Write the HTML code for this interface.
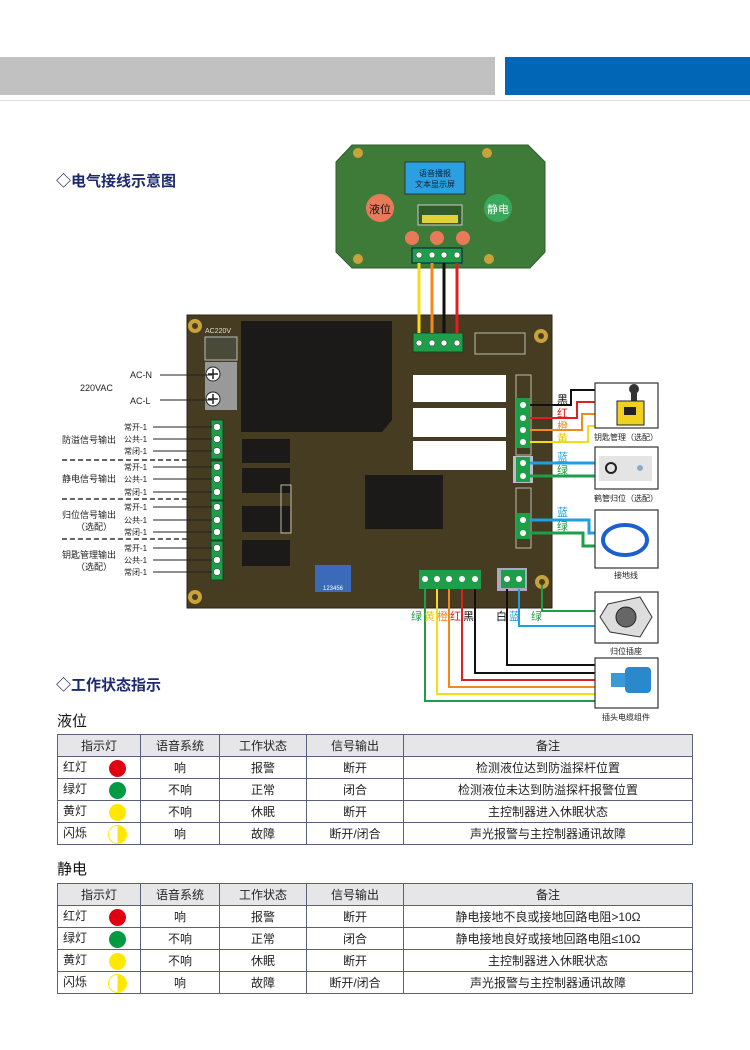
<!DOCTYPE html>
<html><head><meta charset="utf-8"><style>
body{margin:0;width:750px;height:1050px;background:#fff;position:relative;overflow:hidden;font-family:"Liberation Sans","Noto Sans CJK SC",sans-serif;}
.abs{position:absolute}
table{position:absolute;left:57px;width:636px;border-collapse:collapse;font-size:12px;color:#222;}
td,th{border:1px solid #5a5f7a;height:21px;text-align:center;padding:0;font-weight:normal;}
th{background:#e6e6e9;}
td.l{text-align:left;padding-left:5px;}
.dot{display:inline-block;width:17px;height:17px;border-radius:50%;vertical-align:middle;margin-left:22px;}
</style></head><body>
<div class="abs" style="left:0;top:57px;width:495px;height:38px;background:#c0c1c0"></div>
<div class="abs" style="left:505px;top:57px;width:245px;height:38px;background:#0066b5"></div>
<div class="abs" style="left:0;top:100px;width:750px;height:1px;background:#ddd"></div>
<div class="abs" style="left:56px;top:170px;font-size:15px;font-weight:bold;color:#1e2a6e">◇电气接线示意图</div>
<div class="abs" style="left:56px;top:674px;font-size:15px;font-weight:bold;color:#1e2a6e">◇工作状态指示</div>
<div class="abs" style="left:57px;top:710px;font-size:15px;color:#111">液位</div>
<div class="abs" style="left:57px;top:858px;font-size:15px;color:#111">静电</div>
<svg class="abs" style="left:0;top:0" width="750" height="730" font-family="Liberation Sans,Noto Sans CJK SC,sans-serif">
<!-- top board -->
<polygon points="352,145 528,145 545,162 545,252 530,268 352,268 336,252 336,162" fill="#3e7a38" stroke="#2e5c2a"/>
<circle cx="358" cy="153" r="5" fill="#c9a23a"/><circle cx="487" cy="153" r="5" fill="#c9a23a"/>
<circle cx="358" cy="259" r="5" fill="#c9a23a"/><circle cx="489" cy="259" r="5" fill="#c9a23a"/>
<rect x="405" y="162" width="60" height="32" fill="#2aa0e0" stroke="#333"/>
<text x="435" y="176" font-size="8" text-anchor="middle" fill="#123">语音播报</text>
<text x="435" y="187" font-size="8" text-anchor="middle" fill="#123">文本显示屏</text>
<rect x="418" y="205" width="44" height="20" fill="#2e5c2a" stroke="#ccc"/>
<rect x="422" y="215" width="36" height="8" fill="#e2d23a"/>
<circle cx="380" cy="208" r="14" fill="#e87a5a"/><text x="380" y="213" font-size="11" text-anchor="middle" fill="#111">液位</text>
<circle cx="498" cy="208" r="14" fill="#3aa85a"/><text x="498" y="213" font-size="11" text-anchor="middle" fill="#fff">静电</text>
<circle cx="412" cy="238" r="7" fill="#e87a5a"/><circle cx="437" cy="238" r="7" fill="#e87a5a"/><circle cx="463" cy="238" r="7" fill="#e87a5a"/>
<rect x="412" y="248" width="50" height="15" fill="#1f9e4a" stroke="#114"/>
<g fill="#fff" stroke="#222" stroke-width=".5"><circle cx="419" cy="255" r="3"/><circle cx="432" cy="255" r="3"/><circle cx="444" cy="255" r="3"/><circle cx="457" cy="255" r="3"/></g>
<!-- main board -->
<rect x="187" y="315" width="365" height="293" fill="#453c22" stroke="#2a2414"/>
<g fill="#c9a23a"><circle cx="195" cy="326" r="7"/><circle cx="541" cy="336" r="7"/><circle cx="195" cy="597" r="7"/><circle cx="542" cy="582" r="7"/></g>
<g fill="#453c22"><circle cx="195" cy="326" r="3"/><circle cx="541" cy="336" r="3"/><circle cx="195" cy="597" r="3"/><circle cx="542" cy="582" r="3"/></g>
<text x="205" y="333" font-size="7" fill="#ddd">AC220V</text>
<rect x="205" y="337" width="32" height="23" fill="#4a4a3a" stroke="#bbb"/>
<rect x="205" y="362" width="32" height="48" fill="#999"/>
<circle cx="213" cy="374" r="7" fill="#fff" stroke="#222"/><circle cx="213" cy="399" r="7" fill="#fff" stroke="#222"/>
<path d="M208,374h10M213,369v10M208,399h10M213,394v10" stroke="#222" stroke-width="1.5"/>
<polygon points="241,321 392,321 392,420 382,432 241,432" fill="#1b1a18"/>
<g fill="#1b1a18"><rect x="242" y="439" width="48" height="24"/><rect x="242" y="468" width="48" height="25"/><rect x="242" y="506" width="48" height="26"/><rect x="242" y="540" width="48" height="26"/><rect x="365" y="475" width="78" height="54"/></g>
<g fill="#fff"><rect x="413" y="375" width="93" height="27"/><rect x="413" y="408" width="93" height="29"/><rect x="413" y="441" width="93" height="29"/></g>
<rect x="315" y="565" width="36" height="27" fill="#3a6ab8"/>
<text x="333" y="590" font-size="6" text-anchor="middle" fill="#fff">123456</text>
<rect x="281" y="485" width="10" height="48" fill="none" stroke="#bba"/>
<!-- left green terminals -->
<g fill="#1f9e4a" stroke="#0d4a22">
<rect x="211" y="420" width="12" height="39"/><rect x="211" y="461" width="12" height="39"/><rect x="211" y="501" width="12" height="39"/><rect x="211" y="541" width="12" height="39"/>
</g>
<g fill="#fff" stroke="#222" stroke-width=".5">
<circle cx="217" cy="427" r="3.5"/><circle cx="217" cy="439" r="3.5"/><circle cx="217" cy="451" r="3.5"/>
<circle cx="217" cy="467" r="3.5"/><circle cx="217" cy="479" r="3.5"/><circle cx="217" cy="492" r="3.5"/>
<circle cx="217" cy="507" r="3.5"/><circle cx="217" cy="520" r="3.5"/><circle cx="217" cy="532" r="3.5"/>
<circle cx="217" cy="548" r="3.5"/><circle cx="217" cy="560" r="3.5"/><circle cx="217" cy="572" r="3.5"/>
</g>
<!-- top connector main -->
<rect x="413" y="333" width="50" height="19" fill="#1f9e4a" stroke="#0d4a22"/>
<g fill="#fff" stroke="#222" stroke-width=".5"><circle cx="419" cy="343" r="3"/><circle cx="432" cy="343" r="3"/><circle cx="444" cy="343" r="3"/><circle cx="457" cy="343" r="3"/></g>
<rect x="475" y="333" width="50" height="21" fill="none" stroke="#bba"/>
<!-- top wires -->
<g stroke-width="3" fill="none"><path d="M419,263V333" stroke="#f5dc14"/><path d="M432,263V333" stroke="#f08a1a"/><path d="M444,263V333" stroke="#111"/><path d="M457,263V333" stroke="#e02020"/></g>
<!-- right terminals -->
<rect x="516" y="375" width="15" height="80" fill="none" stroke="#bba"/>
<rect x="516" y="398" width="14" height="50" fill="#1f9e4a"/>
<rect x="513" y="456" width="20" height="27" fill="#bbc" />
<rect x="516" y="457" width="14" height="25" fill="#1f9e4a"/>
<rect x="516" y="488" width="15" height="60" fill="none" stroke="#bba"/>
<rect x="516" y="513" width="14" height="26" fill="#1f9e4a"/>
<g fill="#fff"><circle cx="523" cy="405" r="3"/><circle cx="523" cy="418" r="3"/><circle cx="523" cy="430" r="3"/><circle cx="523" cy="442" r="3"/><circle cx="523" cy="463" r="3"/><circle cx="523" cy="476" r="3"/><circle cx="523" cy="520" r="3"/><circle cx="523" cy="533" r="3"/></g>
<!-- bottom terminals -->
<rect x="419" y="570" width="62" height="19" fill="#1f9e4a"/>
<rect x="497" y="568" width="30" height="23" fill="#aab"/>
<rect x="501" y="570" width="24" height="18" fill="#1f9e4a"/>
<g fill="#fff"><circle cx="425" cy="579" r="3"/><circle cx="437" cy="579" r="3"/><circle cx="449" cy="579" r="3"/><circle cx="462" cy="579" r="3"/><circle cx="475" cy="579" r="3"/><circle cx="507" cy="579" r="3"/><circle cx="519" cy="579" r="3"/></g>
<!-- right wires -->
<g stroke-width="2" fill="none">
<path d="M530,405H571V390H595" stroke="#111"/>
<path d="M530,418H577V402H595" stroke="#e02020"/>
<path d="M530,430H582V414H595" stroke="#f08a1a"/>
<path d="M530,442H588V426H595" stroke="#f5dc14"/>
<path d="M530,463H595" stroke="#1ea0e0" stroke-width="3"/>
<path d="M530,476H595" stroke="#1f9e4a" stroke-width="3"/>
<path d="M530,520H589V533H595" stroke="#1ea0e0" stroke-width="3"/>
<path d="M530,533H583V546H595" stroke="#1f9e4a" stroke-width="3"/>
<path d="M425,589V701H595" stroke="#1f9e4a"/>
<path d="M437,589V694H595" stroke="#f5dc14"/>
<path d="M449,589V687H595" stroke="#f08a1a"/>
<path d="M462,589V680H595" stroke="#e02020"/>
<path d="M475,589V673H595" stroke="#111"/>
<path d="M507,589V665H595" stroke="#111"/>
<path d="M519,589V626H595" stroke="#1ea0e0"/>
<path d="M542,585V611H595" stroke="#1f9e4a"/>
</g>
<g font-size="11">
<text x="557" y="403" fill="#111">黑</text><text x="557" y="417" fill="#e02020">红</text><text x="557" y="430" fill="#f08a1a">橙</text><text x="557" y="442" fill="#e8c800">黄</text>
<text x="557" y="461" fill="#1ea0e0">蓝</text><text x="557" y="474" fill="#1f9e4a">绿</text>
<text x="557" y="516" fill="#1ea0e0">蓝</text><text x="557" y="530" fill="#1f9e4a">绿</text>
<text x="411" y="620" fill="#1f9e4a">绿</text><text x="424" y="620" fill="#e8c800">黄</text><text x="437" y="620" fill="#f08a1a">橙</text><text x="450" y="620" fill="#e02020">红</text><text x="463" y="620" fill="#111">黑</text>
<text x="496" y="620" fill="#111">白</text><text x="509" y="620" fill="#1ea0e0">蓝</text><text x="531" y="620" fill="#1f9e4a">绿</text>
</g>
<!-- right boxes -->
<g fill="#fff" stroke="#333" stroke-width="1.2">
<rect x="595" y="383" width="63" height="45"/><rect x="595" y="447" width="63" height="42"/><rect x="595" y="510" width="63" height="58"/><rect x="595" y="592" width="63" height="51"/><rect x="595" y="658" width="63" height="50"/>
</g>
<circle cx="634" cy="389" r="5" fill="#333"/><rect x="631" y="393" width="6" height="8" fill="#333"/>
<rect x="617" y="401" width="27" height="24" fill="#f0d020" stroke="#222"/><rect x="624" y="407" width="12" height="8" fill="#222"/>
<rect x="599" y="456" width="53" height="25" fill="#e4e4e4"/><circle cx="611" cy="468" r="5" fill="none" stroke="#222" stroke-width="2"/><circle cx="640" cy="468" r="3" fill="#8ac"/>
<ellipse cx="625" cy="540" rx="22" ry="15" fill="none" stroke="#1e5fd0" stroke-width="4"/>
<polygon points="608,604 640,597 652,617 640,637 610,632 600,617" fill="#ddd" stroke="#333"/><circle cx="626" cy="617" r="10" fill="#666" stroke="#222"/>
<rect x="611" y="673" width="14" height="14" fill="#3a9ad8"/><rect x="625" y="667" width="26" height="26" rx="4" fill="#2a88cc"/>
<g font-size="8" fill="#222" text-anchor="middle">
<text x="626" y="440">钥匙管理（选配）</text><text x="626" y="501">鹤管归位（选配）</text><text x="626" y="578">接地线</text><text x="626" y="654">归位插座</text><text x="626" y="720">插头电缆组件</text>
</g>
<!-- left labels -->
<g font-size="9" fill="#222">
<text x="80" y="391">220VAC</text><text x="130" y="378">AC-N</text><text x="130" y="404">AC-L</text>
<text x="62" y="443">防溢信号输出</text><text x="62" y="482">静电信号输出</text><text x="62" y="518">归位信号输出</text><text x="76" y="530">（选配）</text>
<text x="62" y="558">钥匙管理输出</text><text x="76" y="570">（选配）</text>
</g>
<g font-size="8" fill="#222">
<text x="124" y="430">常开-1</text><text x="124" y="442">公共-1</text><text x="124" y="454">常闭-1</text>
<text x="124" y="470">常开-1</text><text x="124" y="482">公共-1</text><text x="124" y="495">常闭-1</text>
<text x="124" y="510">常开-1</text><text x="124" y="523">公共-1</text><text x="124" y="535">常闭-1</text>
<text x="124" y="551">常开-1</text><text x="124" y="563">公共-1</text><text x="124" y="575">常闭-1</text>
</g>
<g stroke="#222" stroke-width="1"><path d="M160,375H212M160,400H212M153,427H212M153,439H212M153,451H212M153,467H212M153,479H212M153,492H212M153,507H212M153,520H212M153,532H212M153,548H212M153,560H212M153,572H212"/></g>
<g stroke="#333" stroke-width="1.5" stroke-dasharray="5,3"><path d="M62,460H187M62,499H187M62,539H187"/></g>
</svg>
<table style="top:734px"><tr><th style="width:82px">指示灯</th><th style="width:78px">语音系统</th><th style="width:86px">工作状态</th><th style="width:96px">信号输出</th><th>备注</th></tr>
<tr><td class="l">红灯<span class="dot" style="background:#e00010"></span></td><td>响</td><td>报警</td><td>断开</td><td>检测液位达到防溢探杆位置</td></tr>
<tr><td class="l">绿灯<span class="dot" style="background:#009a40"></span></td><td>不响</td><td>正常</td><td>闭合</td><td>检测液位未达到防溢探杆报警位置</td></tr>
<tr><td class="l">黄灯<span class="dot" style="background:#ffe800"></span></td><td>不响</td><td>休眠</td><td>断开</td><td>主控制器进入休眠状态</td></tr>
<tr><td class="l">闪烁<span class="dot" style="background:linear-gradient(90deg,#fff 50%,#ffe800 50%);box-shadow:0 0 0 1px #ffe800"></span></td><td>响</td><td>故障</td><td>断开/闭合</td><td>声光报警与主控制器通讯故障</td></tr></table>
<table style="top:883px"><tr><th style="width:82px">指示灯</th><th style="width:78px">语音系统</th><th style="width:86px">工作状态</th><th style="width:96px">信号输出</th><th>备注</th></tr>
<tr><td class="l">红灯<span class="dot" style="background:#e00010"></span></td><td>响</td><td>报警</td><td>断开</td><td>静电接地不良或接地回路电阻&gt;10Ω</td></tr>
<tr><td class="l">绿灯<span class="dot" style="background:#009a40"></span></td><td>不响</td><td>正常</td><td>闭合</td><td>静电接地良好或接地回路电阻≤10Ω</td></tr>
<tr><td class="l">黄灯<span class="dot" style="background:#ffe800"></span></td><td>不响</td><td>休眠</td><td>断开</td><td>主控制器进入休眠状态</td></tr>
<tr><td class="l">闪烁<span class="dot" style="background:linear-gradient(90deg,#fff 50%,#ffe800 50%);box-shadow:0 0 0 1px #ffe800"></span></td><td>响</td><td>故障</td><td>断开/闭合</td><td>声光报警与主控制器通讯故障</td></tr></table>
</body></html>
